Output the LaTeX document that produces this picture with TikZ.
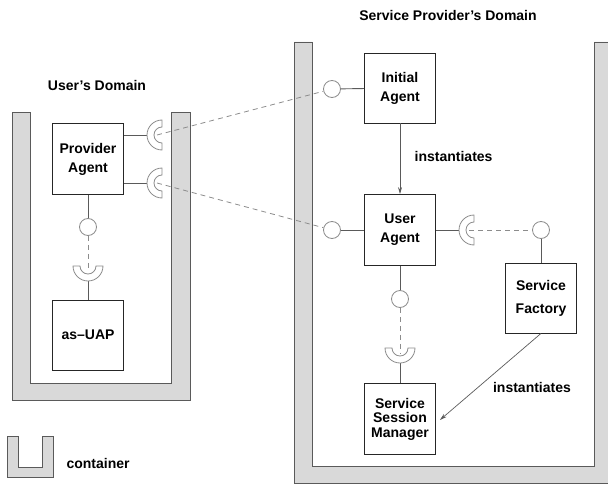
\documentclass[tikz,border=0pt]{standalone}
\usepackage{fontspec}
\setmainfont{Liberation Sans}
\usetikzlibrary{calc}
\usetikzlibrary{positioning}
\usetikzlibrary{arrows.meta}

\definecolor{wallgray}{RGB}{217,217,217}
\definecolor{linegray}{RGB}{90,90,90}
\definecolor{dashgray}{RGB}{140,140,140}

\tikzset{
  container/.style={fill=wallgray, draw=linegray, line width=0.8pt},
  block/.style={draw=black!85, fill=white, line width=0.8pt, minimum width=71pt, minimum height=71pt, align=center, inner sep=0pt},
  port/.style={circle, draw=dashgray, fill=white, line width=0.8pt, minimum size=17pt, inner sep=0pt},
  socket/.style={draw=dashgray, fill=white, line width=0.8pt},
  wire/.style={draw=linegray, line width=0.9pt},
  link/.style={draw=dashgray, line width=0.8pt, dash pattern=on 5pt off 4pt},
  arrow/.style={draw=linegray, line width=0.7pt, -{Stealth[length=7pt,width=4pt]}},
  lbl/.style={font=\bfseries\fontsize{14}{17}\selectfont}
}

% socket opening to the right / opening upwards
\newcommand{\sockright}[1]{\draw[socket] ([yshift=15pt]#1) arc (270:90:15) -- ++(0,-7) arc (90:270:8) -- cycle;}
\newcommand{\sockup}[1]{\draw[socket] ([xshift=-15pt]#1) arc (180:0:15) -- ++(-7,0) arc (0:180:8) -- cycle;}

\begin{document}
\begin{tikzpicture}[x=1pt,y=-1pt, font=\bfseries\fontsize{14}{19}\selectfont]

\useasboundingbox (0,0) rectangle (608,487);

% containers
\draw[container] (12,112) -- (30,112) -- (30,383) -- (171,383) -- (171,112) -- (190,112) -- (190,400) -- (12,400) -- cycle;
\draw[container] (294,42) -- (312,42) -- (312,466) -- (594,466) -- (594,42) -- (612,42) -- (612,483) -- (294,483) -- cycle;

% legend
\draw[container] (7,436) -- (18,436) -- (18,467) -- (42,467) -- (42,436) -- (53,436) -- (53,477) -- (7,477) -- cycle;
\node[lbl, anchor=west] (leg) at (63,463) {container};

% domain titles
\node[lbl] (udom) at (97,85) {User's Domain};
\node[lbl] (sdom) at (448,15) {Service Provider's Domain};

% user side
\node[block] (pa) at (88,159) {Provider\\Agent};
\node[block, minimum height=70pt] (asuap) at (88,335) {as--UAP};
\node[port] (pc) at (88,227) {};
\coordinate (sp1) at (162,135);
\coordinate (sp2) at (162,183);
\coordinate (sa) at (88,266);

% provider side
\node[block, minimum height=70pt] (ia) at (400,88) {Initial\\Agent};
\node[block] (ua) at (400,230) {User\\Agent};
\node[block, minimum height=70pt, font=\bfseries\fontsize{14}{23}\selectfont] (sf) at (541,298) {Service\\Factory};
\node[block, font=\bfseries\fontsize{14}{14.5}\selectfont] (ssm) at (400,419) {Service\\Session\\Manager};
\node[port] (ic) at (332,89) {};
\node[port] (uc) at (332,230) {};
\node[port] (fc) at (541,230) {};
\node[port] (sc) at (400,299) {};
\coordinate (su) at (474,230);
\coordinate (ss) at (400,348);

% plain wires
\draw[wire] (pa.east |- sp1) -- ([xshift=-15pt]sp1);
\draw[wire] (pa.east |- sp2) -- ([xshift=-15pt]sp2);
\draw[wire] (pa) -- (pc);
\draw[wire] ([yshift=-15pt]sa) -- (asuap);
\draw[wire] (ic) -- (ia);
\draw[wire] (uc) -- (ua);
\draw[wire] (ua.east) -- ([xshift=-15pt]su);
\draw[wire] (fc) -- (sf);
\draw[wire] (ua) -- (sc);
\draw[wire] ([yshift=-15pt]ss) -- (ssm);

% dashed bindings
\draw[link] ([xshift=-5pt]sp1) -- (ic);
\draw[link] ([xshift=-5pt]sp2) -- (uc);
\draw[link] (pc) -- ([yshift=-5pt]sa);
\draw[link] ([xshift=-5pt]su) -- (fc);
\draw[link] (sc) -- ([yshift=-5pt]ss);

% sockets
\sockright{sp1}
\sockright{sp2}
\sockright{su}
\sockup{sa}
\sockup{ss}

% instantiation
\draw[arrow] (ia) -- node[midway, right=11pt, yshift=2pt] (inst1) {instantiates} (ua);
\draw[arrow] (sf.south) -- ([xshift=4pt,yshift=-1pt]ssm.east);
\node (inst2) at (532,387) {instantiates};

\end{tikzpicture}
\end{document}
